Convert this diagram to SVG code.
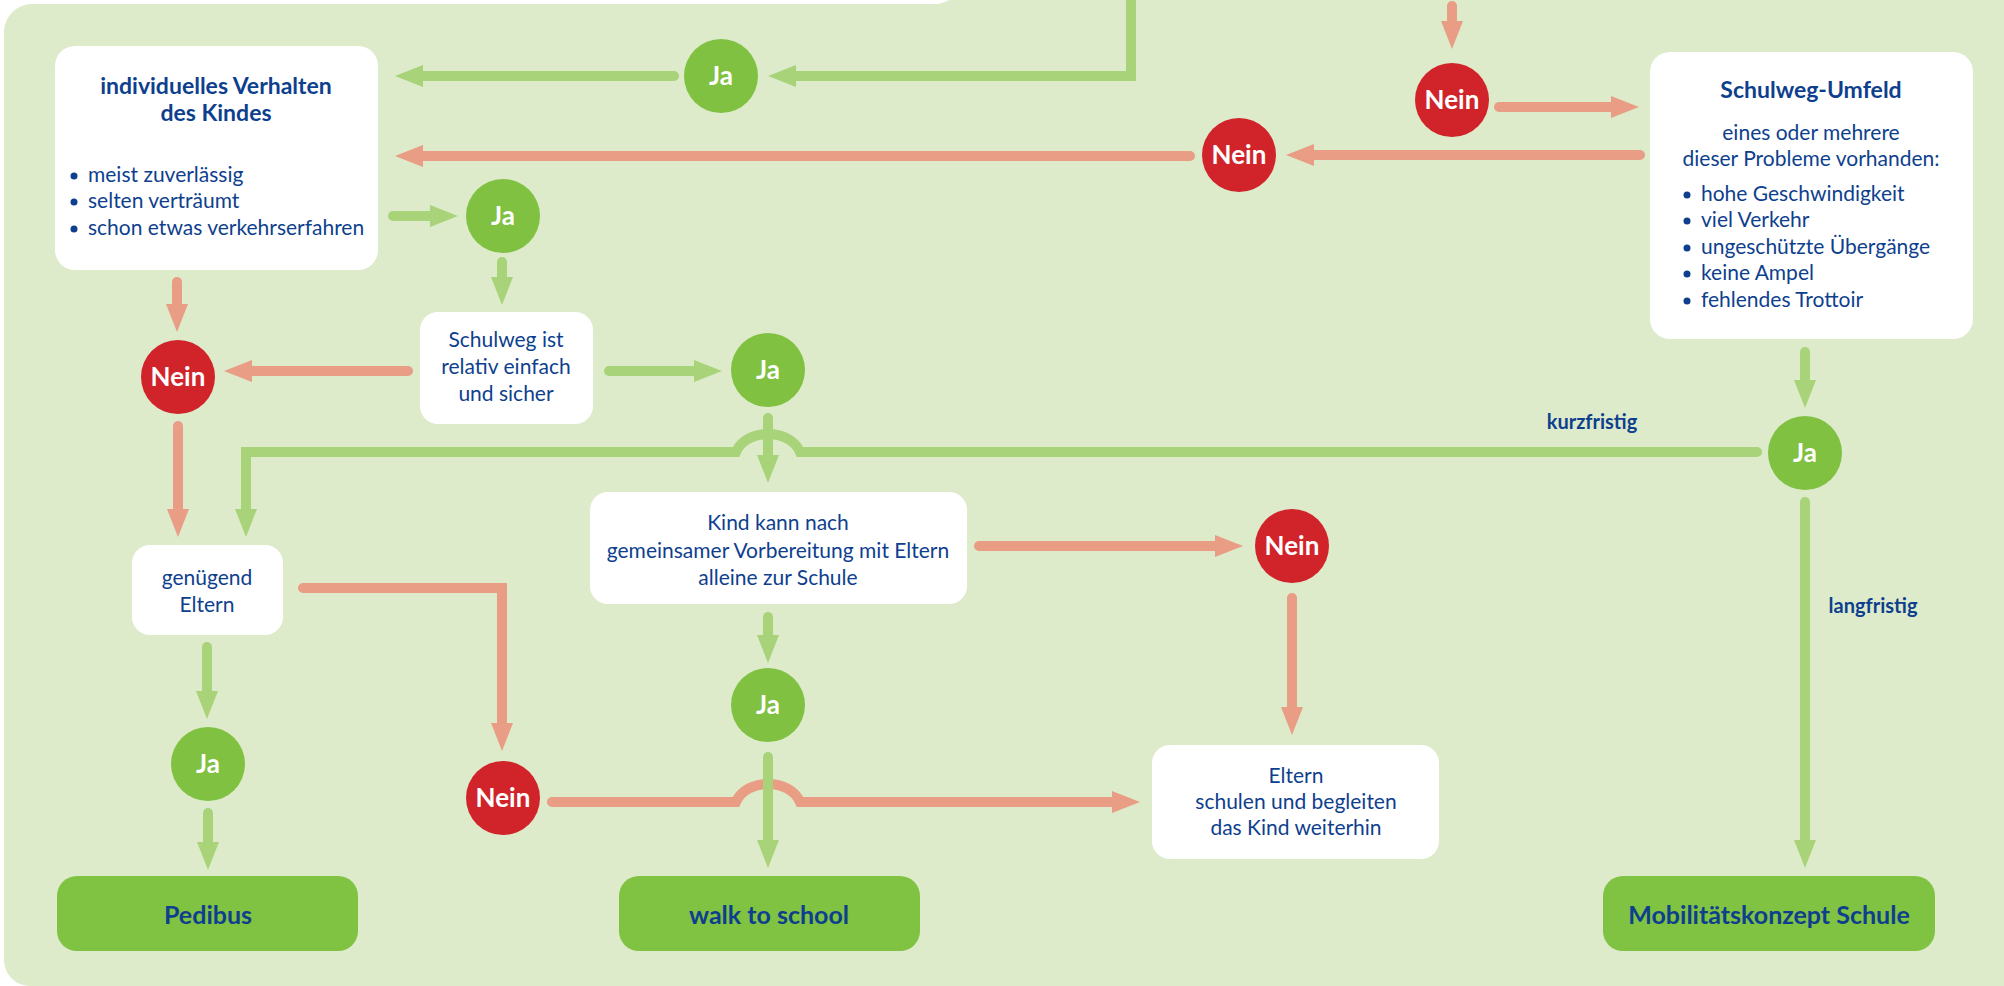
<svg xmlns="http://www.w3.org/2000/svg" width="2004" height="986" viewBox="0 0 2004 986">
<defs>
<style>
.bg{fill:#ddebcb}
.box{fill:#ffffff}
.res{fill:#80c241}
.ja{fill:#80c141}
.nein{fill:#d1232a}
.cl{font-family:Lato,'Liberation Sans',sans-serif;font-weight:700;font-size:26px;fill:#ffffff;text-anchor:middle}
.t{font-family:Lato,'Liberation Sans',sans-serif;font-size:21px;fill:#0e3f8e}
.c{text-anchor:middle}
.h{font-family:Lato,'Liberation Sans',sans-serif;font-weight:700;font-size:23px;fill:#0e3f8e;text-anchor:middle}
.r{font-family:Lato,'Liberation Sans',sans-serif;font-weight:700;font-size:25px;fill:#0e3f8e;text-anchor:middle}
.lab{font-family:Lato,'Liberation Sans',sans-serif;font-weight:700;font-size:20px;fill:#0e3f8e;text-anchor:middle}
.dot{fill:#0e3f8e}
.g{fill:none;stroke:#a8d379;stroke-width:10;stroke-linecap:round;stroke-linejoin:miter;marker-end:url(#ag)}
.s{fill:none;stroke:#e89d84;stroke-width:10;stroke-linecap:round;stroke-linejoin:miter;marker-end:url(#as)}
</style>
<marker id="ag" markerUnits="userSpaceOnUse" markerWidth="30" markerHeight="24" refX="1" refY="11" orient="auto"><path d="M0,0 L28,11 L0,22 Z" fill="#a8d379"/></marker>
<marker id="as" markerUnits="userSpaceOnUse" markerWidth="30" markerHeight="24" refX="1" refY="11" orient="auto"><path d="M0,0 L28,11 L0,22 Z" fill="#e89d84"/></marker>
</defs>
<rect x="0" y="0" width="2004" height="986" fill="#ffffff"/>
<path class="bg" d="M32 4 H935 C941 4 945 2 949 0 H2004 V986 H30 A26 26 0 0 1 4 960 V32 A28 28 0 0 1 32 4 Z"/>

<g id="connectors">
<path class="g" d="M1757 452 H800 C790 428 746 428 736 452 H246 V510"/>
<path class="s" d="M552 802 H736 C746 778 790 778 800 802 H1113"/>
<path class="g" d="M1131 -6 V76 H795"/>
<path class="g" d="M674 76 H422"/>
<path class="g" d="M393 216 H431"/>
<path class="g" d="M502 262 V278"/>
<path class="g" d="M609 371 H695"/>
<path class="g" d="M768 418 V456"/>
<path class="g" d="M1805 352 V381"/>
<path class="g" d="M768 617 V636"/>
<path class="g" d="M768 757 V841"/>
<path class="g" d="M207 647 V692"/>
<path class="g" d="M208 813 V843"/>
<path class="g" d="M1805 502 V841"/>
<path class="s" d="M1452 6 V22"/>
<path class="s" d="M1499 107 H1612"/>
<path class="s" d="M1640 155 H1313"/>
<path class="s" d="M1190 156 H422"/>
<path class="s" d="M177 282 V305"/>
<path class="s" d="M408 371 H251"/>
<path class="s" d="M178 426 V510"/>
<path class="s" d="M303 588 H502 V724"/>
<path class="s" d="M979 546 H1216"/>
<path class="s" d="M1292 598 V708"/>
<text class="lab" x="1592" y="429">kurzfristig</text>
<text class="lab" x="1873" y="613">langfristig</text>
</g>

<g id="verhalten">
<rect class="box" x="55" y="46" width="323" height="224" rx="20"/>
<text class="h" x="216" y="94">individuelles Verhalten</text>
<text class="h" x="216" y="121">des Kindes</text>
<circle class="dot" cx="74" cy="176" r="3.5"/><text class="t" x="88" y="182">meist zuverlässig</text>
<circle class="dot" cx="74" cy="202" r="3.5"/><text class="t" x="88" y="208">selten verträumt</text>
<circle class="dot" cx="74" cy="229" r="3.5"/><text class="t" x="88" y="235">schon etwas verkehrserfahren</text>
</g>

<g id="umfeld">
<rect class="box" x="1650" y="52" width="323" height="287" rx="20"/>
<text class="h" x="1811" y="98">Schulweg-Umfeld</text>
<text class="t c" x="1811" y="140">eines oder mehrere</text>
<text class="t c" x="1811" y="166">dieser Probleme vorhanden:</text>
<circle class="dot" cx="1687" cy="195" r="3.5"/><text class="t" x="1701" y="201">hohe Geschwindigkeit</text>
<circle class="dot" cx="1687" cy="221" r="3.5"/><text class="t" x="1701" y="227">viel Verkehr</text>
<circle class="dot" cx="1687" cy="248" r="3.5"/><text class="t" x="1701" y="254">ungeschützte Übergänge</text>
<circle class="dot" cx="1687" cy="274" r="3.5"/><text class="t" x="1701" y="280">keine Ampel</text>
<circle class="dot" cx="1687" cy="301" r="3.5"/><text class="t" x="1701" y="307">fehlendes Trottoir</text>
</g>

<g id="schulweg">
<rect class="box" x="420" y="312" width="173" height="112" rx="18"/>
<text class="t c" x="506" y="347">Schulweg ist</text>
<text class="t c" x="506" y="374">relativ einfach</text>
<text class="t c" x="506" y="401">und sicher</text>
</g>

<g id="genuegend">
<rect class="box" x="132" y="545" width="151" height="90" rx="18"/>
<text class="t c" x="207" y="585">genügend</text>
<text class="t c" x="207" y="612">Eltern</text>
</g>

<g id="kind">
<rect class="box" x="590" y="492" width="377" height="112" rx="18"/>
<text class="t c" x="778" y="530">Kind kann nach</text>
<text class="t c" x="778" y="558">gemeinsamer Vorbereitung mit Eltern</text>
<text class="t c" x="778" y="585">alleine zur Schule</text>
</g>

<g id="eltern">
<rect class="box" x="1152" y="745" width="287" height="114" rx="18"/>
<text class="t c" x="1296" y="783">Eltern</text>
<text class="t c" x="1296" y="809">schulen und begleiten</text>
<text class="t c" x="1296" y="835">das Kind weiterhin</text>
</g>

<g id="pedibus"><rect class="res" x="57" y="876" width="301" height="75" rx="20"/><text class="r" x="208" y="924">Pedibus</text></g>
<g id="walk"><rect class="res" x="619" y="876" width="301" height="75" rx="20"/><text class="r" x="769" y="924">walk to school</text></g>
<g id="mobil"><rect class="res" x="1603" y="876" width="332" height="75" rx="20"/><text class="r" x="1769" y="924">Mobilitätskonzept Schule</text></g>

<g id="ja1"><circle class="ja" cx="721" cy="76" r="37"/><text class="cl" x="721" y="85">Ja</text></g>
<g id="ja2"><circle class="ja" cx="503" cy="216" r="37"/><text class="cl" x="503" y="225">Ja</text></g>
<g id="ja3"><circle class="ja" cx="768" cy="370" r="37"/><text class="cl" x="768" y="379">Ja</text></g>
<g id="ja4"><circle class="ja" cx="1805" cy="453" r="37"/><text class="cl" x="1805" y="462">Ja</text></g>
<g id="ja5"><circle class="ja" cx="768" cy="705" r="37"/><text class="cl" x="768" y="714">Ja</text></g>
<g id="ja6"><circle class="ja" cx="208" cy="764" r="37"/><text class="cl" x="208" y="773">Ja</text></g>
<g id="nein1"><circle class="nein" cx="1452" cy="100" r="37"/><text class="cl" x="1452" y="109">Nein</text></g>
<g id="nein2"><circle class="nein" cx="1239" cy="155" r="37"/><text class="cl" x="1239" y="164">Nein</text></g>
<g id="nein3"><circle class="nein" cx="178" cy="377" r="37"/><text class="cl" x="178" y="386">Nein</text></g>
<g id="nein4"><circle class="nein" cx="1292" cy="546" r="37"/><text class="cl" x="1292" y="555">Nein</text></g>
<g id="nein5"><circle class="nein" cx="503" cy="798" r="37"/><text class="cl" x="503" y="807">Nein</text></g>
</svg>
